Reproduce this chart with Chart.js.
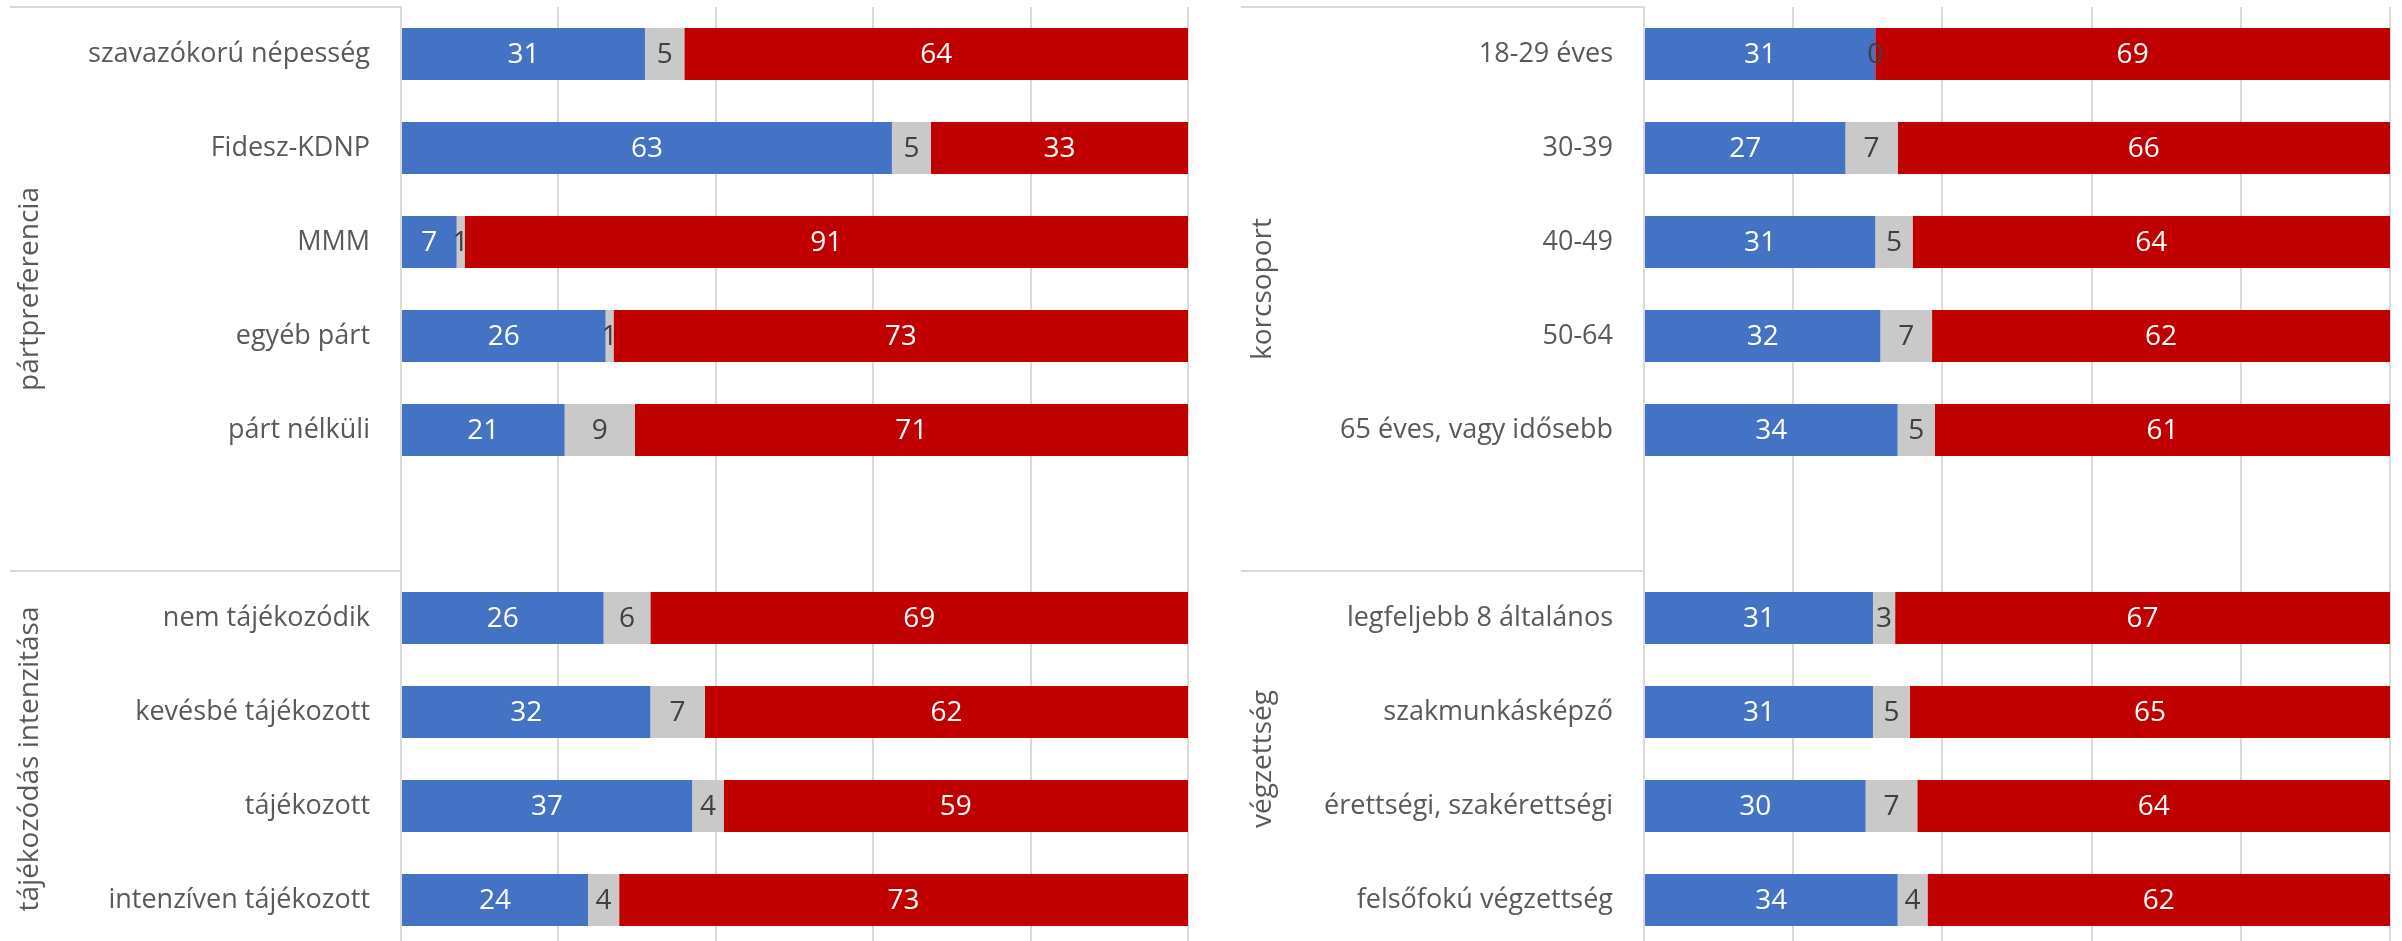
<!DOCTYPE html>
<html>
<head>
<meta charset="utf-8">
<script src="https://cdn.jsdelivr.net/npm/chart.js@4.4.0/dist/chart.umd.min.js"></script>
<style>
    html, body {
        margin: 0;
        padding: 0;
        background: #fff;
        width: 2402px;
        height: 941px;
        overflow: hidden;
    }
    canvas {
        position: absolute;
        top: 0;
    }
    #chart-left { left: 0; }
    #chart-right { left: 1200px; }
</style>
</head>
<body>
<canvas id="chart-left" width="1200" height="960"></canvas>
<canvas id="chart-right" width="1202" height="960"></canvas>
<script>
// left panel (empty string = blank row between the two groups)
const leftLabels = ['szavazókorú népesség', 'Fidesz-KDNP', 'MMM', 'egyéb párt', 'párt nélküli', '',
    'nem tájékozódik', 'kevésbé tájékozott', 'tájékozott', 'intenzíven tájékozott'];
const leftBlue = [31, 63, 7, 26, 21, null, 26, 32, 37, 24];
const leftGrey = [5, 5, 1, 1, 9, null, 6, 7, 4, 4];
const leftRed = [64, 33, 91, 73, 71, null, 69, 62, 59, 73];
const leftGroups = ['pártpreferencia', 'tájékozódás intenzitása'];

// right panel
const rightLabels = ['18-29 éves', '30-39', '40-49', '50-64', '65 éves, vagy idősebb', '',
    'legfeljebb 8 általános', 'szakmunkásképző', 'érettségi, szakérettségi', 'felsőfokú végzettség'];
const rightBlue = [31, 27, 31, 32, 34, null, 31, 31, 30, 34];
const rightGrey = [0, 7, 5, 7, 5, null, 3, 5, 7, 4];
const rightRed = [69, 66, 64, 62, 61, null, 67, 65, 64, 62];
const rightGroups = ['korcsoport', 'végzettség'];

const xTicks = [0, 20, 40, 60, 80, 100];

const BLUE = '#4472C4';
const GREY = '#C9C9C9';
const RED = '#C00000';
const TEXT = '#595959';
const LINE = '#D9D9D9';
const FONT = "'Open Sans', sans-serif";


// 100% stacked: every row is scaled to its own total, labels keep the read value
function percent(series, all) {
    return series.map((v, i) => {
        if (v === null) return null;
        const total = all.reduce((s, arr) => s + arr[i], 0);
        return v / total * 100;
    });
}


const valueLabels = {
    id: 'valueLabels',
    afterDatasetsDraw(chart) {
        const ctx = chart.ctx;
        ctx.save();
        ctx.font = '28px ' + FONT;
        ctx.textAlign = 'center';
        ctx.textBaseline = 'middle';
        chart.data.datasets.forEach((ds, di) => {
            chart.getDatasetMeta(di).data.forEach((bar, i) => {
                const v = ds.shown[i];
                if (v === null) return;
                ctx.fillStyle = ds.labelColor;
                ctx.fillText(String(v), (bar.x + bar.base) / 2, bar.y + 1);
            });
        });
        ctx.restore();
    }
};


// group titles and the separator lines of the two-level category axis
const groupAxis = {
    id: 'groupAxis',
    afterDraw(chart) {
        const opts = chart.options.plugins.groupAxis;
        const ctx = chart.ctx;
        const area = chart.chartArea;
        const y = chart.scales.y;
        const pitch = y.getPixelForValue(1) - y.getPixelForValue(0);
        const sep = y.getPixelForValue(5) + pitch / 2;

        ctx.save();
        ctx.strokeStyle = LINE;
        ctx.lineWidth = 2;
        [area.top, sep].forEach(ly => {
            ctx.beginPath();
            ctx.moveTo(opts.lineStart, ly);
            ctx.lineTo(area.left, ly);
            ctx.stroke();
        });

        ctx.fillStyle = TEXT;
        ctx.font = '28px ' + FONT;
        ctx.textAlign = 'center';
        ctx.textBaseline = 'middle';
        const spans = [[area.top, sep], [sep, area.bottom]];
        opts.titles.forEach((t, i) => {
            ctx.save();
            ctx.translate(opts.titleX, (spans[i][0] + spans[i][1]) / 2);
            ctx.rotate(-Math.PI / 2);
            ctx.fillText(t, 0, 0);
            ctx.restore();
        });
        ctx.restore();
    }
};


function make_chart(canvasId, labels, blue, grey, red, groups, axisWidth, lineStart, titleX) {
    const all = [blue, grey, red];
    const canvas = document.getElementById(canvasId);
    return new Chart(canvas, {
        type: 'bar',
        data: {
            labels: labels,
            datasets: [
                {data: percent(blue, all), shown: blue, backgroundColor: BLUE, labelColor: '#fff'},
                {data: percent(grey, all), shown: grey, backgroundColor: GREY, labelColor: '#404040'},
                {data: percent(red, all), shown: red, backgroundColor: RED, labelColor: '#fff'}
            ]
        },
        options: {
            indexAxis: 'y',
            responsive: false,
            animation: false,
            layout: {padding: {top: 7, right: 12, bottom: 13, left: 0}},
            datasets: {
                bar: {categoryPercentage: 1, barPercentage: 0.553, borderWidth: 0}
            },
            plugins: {
                legend: {display: false},
                tooltip: {enabled: false},
                groupAxis: {titles: groups, lineStart: lineStart, titleX: titleX}
            },
            scales: {
                x: {
                    stacked: true,
                    min: 0,
                    max: 100,
                    afterBuildTicks: (scale) => {
                        scale.ticks = xTicks.map(v => ({value: v}));
                    },
                    afterFit: (scale) => {
                        scale.height = 0;
                        scale.paddingLeft = 0;
                        scale.paddingRight = 0;
                    },
                    ticks: {display: false},
                    border: {display: false},
                    grid: {color: LINE, lineWidth: 2, drawTicks: false}
                },
                y: {
                    stacked: true,
                    afterFit: (scale) => {
                        scale.width = axisWidth;
                        scale.paddingTop = 0;
                        scale.paddingBottom = 0;
                    },
                    grid: {display: false, drawTicks: false},
                    border: {display: true, color: LINE, width: 2},
                    ticks: {
                        padding: 31,
                        color: TEXT,
                        font: {family: FONT, size: 27}
                    }
                }
            }
        },
        plugins: [valueLabels, groupAxis]
    });
}


make_chart('chart-left', leftLabels, leftBlue, leftGrey, leftRed, leftGroups, 401, 10, 30);
make_chart('chart-right', rightLabels, rightBlue, rightGrey, rightRed, rightGroups, 444, 41, 63);
</script>
</body>
</html>
